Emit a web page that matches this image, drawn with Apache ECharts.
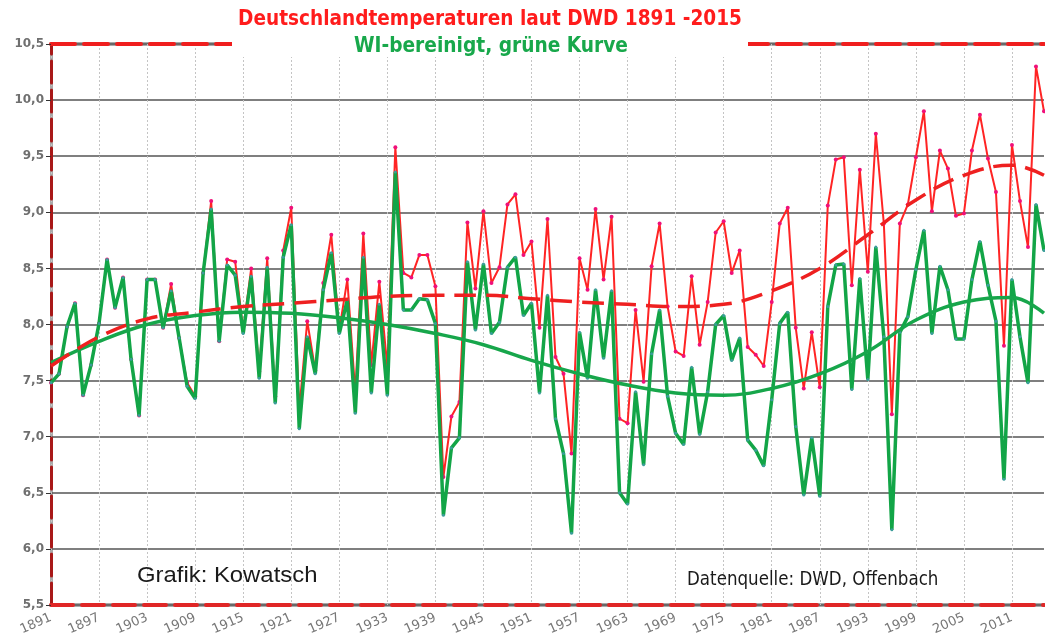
<!DOCTYPE html>
<html><head><meta charset="utf-8">
<script src="https://cdn.jsdelivr.net/npm/echarts@6/dist/echarts.min.js"></script>
<style>html,body{margin:0;padding:0;background:#fff}#c{width:1045px;height:638px}</style>
</head><body><div id="c"></div>
<script>
// ---- DATA ----
const years = [];
for (let y = 1891; y <= 2015; y++) years.push(String(y));

// DWD Germany annual mean temperature (red)
const dwd = [
  7.48,7.56,7.98,8.19,7.37,7.64,8.01,8.58,8.15,8.42, // 1891-1900
  7.69,7.19,8.40,8.40,7.97,8.36,7.88,7.48,7.36,8.46, // 1901-1910
  9.10,7.85,8.58,8.56,7.95,8.50,7.58,8.59,7.36,8.66, // 1911-1920
  9.04,7.24,8.03,7.59,8.37,8.80,7.95,8.40,7.39,8.81, // 1921-1930
  7.64,8.38,7.62,9.58,8.46,8.42,8.62,8.62,8.34,6.64, // 1931-1940
  7.18,7.31,8.91,8.32,9.01,8.37,8.51,9.07,9.16,8.62, // 1941-1950
  8.74,7.97,8.94,7.71,7.56,6.85,8.59,8.31,9.03,8.40, // 1951-1960
  8.96,7.16,7.12,8.13,7.49,8.52,8.90,8.16,7.76,7.72, // 1961-1970
  8.43,7.82,8.20,8.82,8.92,8.46,8.66,7.80,7.73,7.63, // 1971-1980
  8.20,8.90,9.04,7.97,7.43,7.93,7.44,9.06,9.47,9.49, // 1981-1990
  8.35,9.38,8.47,9.70,8.90,7.20,8.90,9.07,9.49,9.90, // 1991-2000
  9.01,9.55,9.39,8.97,8.99,9.55,9.87,9.48,9.18,7.81, // 2001-2010
  9.60,9.10,8.69,10.30,9.90                          // 2011-2015
];

// WI-corrected (green)
const wiCorrected = [
  7.48,7.56,7.98,8.19,7.37,7.64,8.01,8.58,8.15,8.42, // 1891-1900
  7.69,7.19,8.40,8.40,7.97,8.30,7.88,7.45,7.34,8.46, // 1901-1910
  9.03,7.85,8.53,8.44,7.92,8.43,7.52,8.51,7.30,8.60, // 1911-1920
  8.89,7.07,7.89,7.56,8.31,8.64,7.92,8.22,7.21,8.60, // 1921-1930
  7.39,8.18,7.37,9.36,8.13,8.13,8.23,8.22,8.01,6.30, // 1931-1940
  6.90,6.99,8.56,7.95,8.54,7.92,8.02,8.51,8.60,8.08, // 1941-1950
  8.19,7.39,8.26,7.16,6.85,6.14,7.93,7.52,8.31,7.70, // 1951-1960
  8.30,6.50,6.40,7.40,6.75,7.74,8.13,7.36,7.03,6.93, // 1961-1970
  7.62,7.02,7.40,8.00,8.08,7.68,7.88,6.97,6.88,6.74, // 1971-1980
  7.33,8.01,8.11,7.09,6.48,6.99,6.47,8.16,8.53,8.54, // 1981-1990
  7.42,8.41,7.51,8.69,7.89,6.17,7.93,8.07,8.49,8.84, // 1991-2000
  7.92,8.52,8.31,7.87,7.87,8.40,8.74,8.35,8.03,6.62, // 2001-2010
  8.40,7.89,7.48,9.07,8.66                           // 2011-2015
];

// trend curves at the tick years
const trendYears = [1891,1897,1903,1909,1915,1921,1927,1933,1939,1945,1951,1957,1963,1969,1975,1981,1987,1993,1999,2005,2011,2015];
const dwdTrend   = [7.63,7.89,8.05,8.11,8.16,8.19,8.22,8.25,8.26,8.26,8.23,8.20,8.18,8.16,8.18,8.30,8.50,8.80,9.11,9.33,9.42,9.33];
const wiTrend    = [7.66,7.85,8.00,8.08,8.11,8.10,8.06,8.00,7.92,7.82,7.68,7.56,7.46,7.39,7.37,7.43,7.56,7.76,8.04,8.20,8.24,8.10];

const titleText = 'Deutschlandtemperaturen laut DWD 1891 -2015';
const subtitleText = 'WI-bereinigt, grüne Kurve';
const creditText = 'Grafik: Kowatsch';
const sourceText = 'Datenquelle: DWD, Offenbach';

// ---- CHART ----
const chart = echarts.init(document.getElementById('c'), null, {renderer: 'canvas'});
const pair = (ys, vs) => ys.map((y, i) => [String(y), vs[i]]);

const baseX = {
  type: 'category', data: years, boundaryGap: false,
  axisTick: {show: false}, axisLabel: {show: false}, splitLine: {show: false}
};
const baseY = {
  type: 'value', min: 5.5, max: 10.5, interval: 0.5,
  axisTick: {show: false}, axisLabel: {show: false}, splitLine: {show: false}
};
const gray = '#a9a9a9';

chart.setOption({
  animation: false,
  backgroundColor: '#fff',
  grid: {left: 51, right: 1, top: 44, bottom: 33},
  xAxis: [
    Object.assign({}, baseX, {
      position: 'bottom', z: 3,
      axisLine: {lineStyle: {color: '#e02626', width: 4, type: [22, 9]}},
      axisLabel: {
        show: true, interval: 5, rotate: 24, margin: 12,
        color: '#777', fontSize: 13, fontFamily: 'DejaVu Sans, sans-serif',
        formatter: v => (v === '2015' ? '' : v)
      },
      splitLine: {show: true, interval: 5, lineStyle: {color: '#c4c4c4', width: 1, type: [2, 2]}}
    }),
    Object.assign({}, baseX, {position: 'bottom', z: 2, axisLine: {lineStyle: {color: gray, width: 4}}}),
    Object.assign({}, baseX, {position: 'top', z: 3, axisLine: {lineStyle: {color: '#f01e1e', width: 4, type: [24, 9]}}}),
    Object.assign({}, baseX, {position: 'top', z: 2, axisLine: {lineStyle: {color: gray, width: 4}}})
  ],
  yAxis: [
    Object.assign({}, baseY, {
      position: 'left', z: 3,
      axisLine: {show: true, lineStyle: {color: '#a81818', width: 3, type: [22, 7]}},
      axisTick: {show: true, length: 5, inside: false, lineStyle: {color: '#333', width: 1}},
      axisLabel: {
        show: true, margin: 7, color: '#6f6f6f', fontSize: 12, fontWeight: 'bold',
        fontFamily: 'DejaVu Sans, sans-serif',
        formatter: v => v.toFixed(1).replace('.', ',')
      },
      splitLine: {show: true, lineStyle: {color: '#555', width: 1.5}}
    }),
    Object.assign({}, baseY, {position: 'left', z: 2, axisLine: {show: true, lineStyle: {color: gray, width: 3}}})
  ],
  series: [
    {
      name: 'DWD', type: 'line', data: dwd, z: 4,
      showSymbol: true, showAllSymbol: true, symbol: 'circle', symbolSize: 4,
      lineStyle: {color: '#ff2424', width: 2},
      itemStyle: {color: '#f0107a'}
    },
    {
      name: 'WI-bereinigt', type: 'line', data: wiCorrected, z: 5,
      showSymbol: true, showAllSymbol: true, symbol: 'circle', symbolSize: 3,
      lineStyle: {color: '#12a547', width: 3.5},
      itemStyle: {color: '#3b9d9a'}
    },
    {
      name: 'WI-Trend', type: 'line', data: pair(trendYears, wiTrend), z: 6,
      smooth: 0.4, showSymbol: false,
      lineStyle: {color: '#17a64b', width: 3.5}
    },
    {
      name: 'DWD-Trend', type: 'line', data: pair(trendYears, dwdTrend), z: 7,
      smooth: 0.4, showSymbol: false,
      lineStyle: {color: '#ee2020', width: 3.5, type: [22, 10]}
    }
  ],
  graphic: [
    {type: 'rect', z: 100, shape: {x: 232, y: 0, width: 516, height: 57}, style: {fill: '#fff'}},
    {type: 'text', z: 101, x: 490, y: 19, scaleX: 0.935, style: {
      text: titleText, fill: '#ff1c1c', align: 'center', verticalAlign: 'middle',
      fontSize: 22, fontWeight: 'bold', fontFamily: 'Liberation Sans Narrow, DejaVu Sans Condensed, sans-serif'}},
    {type: 'text', z: 101, x: 491, y: 46, scaleX: 0.94, style: {
      text: subtitleText, fill: '#18a84b', align: 'center', verticalAlign: 'middle',
      fontSize: 22, fontWeight: 'bold', fontFamily: 'Liberation Sans Narrow, DejaVu Sans Condensed, sans-serif'}},
    {type: 'text', z: 101, x: 137, y: 576, scaleX: 1.085, style: {
      text: creditText, fill: '#1a1a1a', align: 'left', verticalAlign: 'middle',
      fontSize: 22, fontFamily: 'Liberation Sans, Arial, sans-serif'}},
    {type: 'text', z: 101, x: 687, y: 580, scaleX: 0.977, style: {
      text: sourceText, fill: '#1a1a1a', align: 'left', verticalAlign: 'middle',
      fontSize: 19, fontFamily: 'Liberation Sans Narrow, DejaVu Sans Condensed, sans-serif'}}
  ]
});
</script>
</body></html>
